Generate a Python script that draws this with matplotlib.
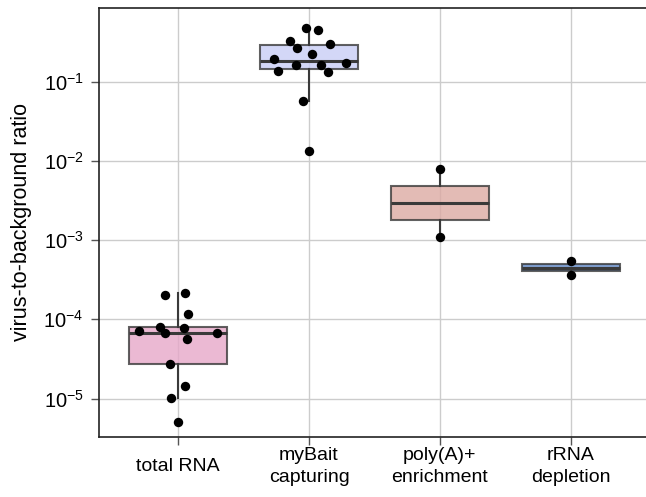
import numpy as np
import matplotlib
matplotlib.use("Agg")
import matplotlib.pyplot as plt
from matplotlib import cbook

plt.rcParams['font.family'] = ['Liberation Sans', 'DejaVu Sans']

# virus-to-background ratios per library prep method
groups = ['total RNA', 'myBait\ncapturing', 'poly(A)+\nenrichment', 'rRNA\ndepletion']
total_rna = [2.03e-4, 2.13e-4, 1.17e-4, 7.11e-5, 8.07e-5, 6.65e-5, 7.83e-5,
             6.77e-5, 5.59e-5, 2.70e-5, 1.44e-5, 1.02e-5, 5.0e-6]
mybait = [0.481, 0.45, 0.327, 0.268, 0.296, 0.222, 0.195, 0.174, 0.138,
          0.161, 0.161, 0.134, 0.057, 0.0135]
polya = [7.83e-3, 1.10e-3]
rrna = [5.50e-4, 3.62e-4]
data = [total_rna, mybait, polya, rrna]

# horizontal jitter of the strip points
jitter = [
    [-0.10, 0.054, 0.074, -0.299, -0.14, -0.10, 0.046, 0.293, 0.064, -0.064, 0.049, -0.056, 0.0],
    [-0.02, 0.069, -0.142, -0.092, 0.158, 0.026, -0.269, 0.285, -0.237, -0.102, 0.095, 0.145, -0.05, 0.0],
    [0.0, 0.0],
    [0.0, 0.0],
]
colors = ['#e6a8c9', '#c9cdf5', '#dcaaa3', '#5f86c4']
edge = '#3a3a3a'

fig = plt.figure(figsize=(6.46, 4.97), dpi=100)
ax = fig.add_axes([0.1533, 0.1207, 0.8467, 0.8633])
ax.set_yscale('log')

# box stats computed on log10 values, then mapped back
stats = []
for vals in data:
    s = cbook.boxplot_stats(np.log10(vals))[0]
    for k in ['med', 'q1', 'q3', 'whislo', 'whishi', 'mean']:
        s[k] = 10 ** s[k]
    s['fliers'] = []
    stats.append(s)

pos = np.arange(len(groups))
bp = ax.bxp(stats, positions=pos, widths=0.75, patch_artist=True, showcaps=False,
            showfliers=False, zorder=2,
            boxprops=dict(edgecolor=edge, linewidth=1.5),
            whiskerprops=dict(color=edge, linewidth=1.5),
            medianprops=dict(color=edge, linewidth=2.2))
for patch, c in zip(bp['boxes'], colors):
    patch.set_facecolor(c)
    patch.set_alpha(0.8)
    patch.set_edgecolor(edge)

for i, vals in enumerate(data):
    ax.scatter(pos[i] + np.array(jitter[i]), vals, s=46, color='black', zorder=3,
               linewidths=0)

ax.set_xlim(-0.605, 3.575)
ax.set_ylim(3.27e-6, 0.853)
ax.set_yticks([1e-5, 1e-4, 1e-3, 1e-2, 1e-1])
ax.yaxis.set_minor_locator(matplotlib.ticker.NullLocator())
ax.set_xticks(pos)
ax.set_xticklabels(groups, fontsize=14, linespacing=1.4)
for lab in ax.get_xticklabels():
    lab.set_va('center')
ax.tick_params(axis='y', labelsize=14.5, length=6, color='#555555', width=1, pad=5)
ax.tick_params(axis='x', length=6, color='#555555', width=1, pad=15)
ax.set_ylabel('virus-to-background ratio', fontsize=15.5, labelpad=8)

ax.grid(True, color='#cccccc', linewidth=1)
ax.set_axisbelow(True)
ax.spines['right'].set_visible(False)
for sp in ['left', 'bottom', 'top']:
    ax.spines[sp].set_color('#222222')
    ax.spines[sp].set_linewidth(1.2)

fig.savefig('out.png', dpi=100)
